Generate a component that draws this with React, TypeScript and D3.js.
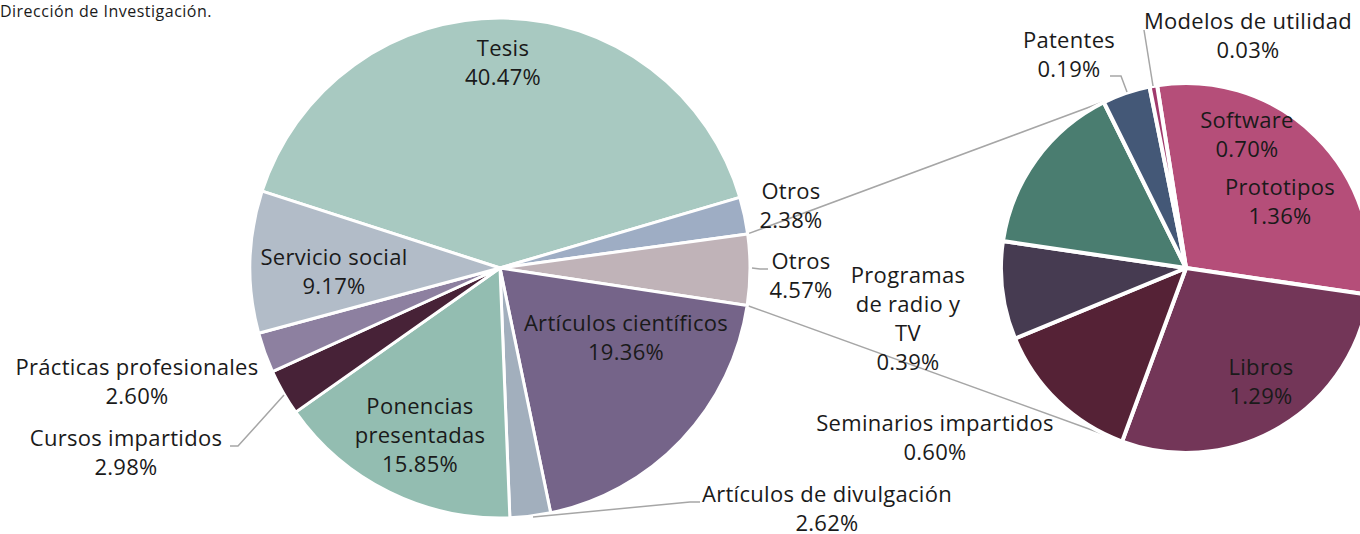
import React from "react";
import * as d3 from "d3";

// ---------- data ----------
const mainCategories = [
  "Tesis",
  "Otros",
  "Otros (desglose)",
  "Artículos científicos",
  "Artículos de divulgación",
  "Ponencias presentadas",
  "Cursos impartidos",
  "Prácticas profesionales",
  "Servicio social",
];
const mainValues = [40.47, 2.38, 4.57, 19.36, 2.62, 15.85, 2.98, 2.6, 9.17];

const secondaryCategories = [
  "Prototipos",
  "Libros",
  "Seminarios impartidos",
  "Programas de radio y TV",
  "Software",
  "Patentes",
  "Modelos de utilidad",
];
const secondaryValues = [1.36, 1.29, 0.6, 0.39, 0.7, 0.19, 0.03];

const sourceText = "Dirección de Investigación.";

// ---------- styles / layout ----------
const mainColors = [
  "#a8c9c1",
  "#9eadc4",
  "#c0b3b8",
  "#756489",
  "#a2afbd",
  "#93bdb1",
  "#472237",
  "#8d80a0",
  "#b2bcc8",
];
const secondaryColors = [
  "#b54e79",
  "#733658",
  "#552236",
  "#463b51",
  "#4a7d70",
  "#445877",
  "#a03a6d",
];

const W = 1360;
const H = 534;
const FONT = "'Open Sans', 'Noto Sans', sans-serif";
const FS = 22;
const LS = 0.3;
const LINE = 29;

const mainCx = 500;
const mainCy = 268;
const mainR = 250;
const mainStartDeg = -72.1;

const secCx = 1186;
const secCy = 268;
const secR = 185;
const secStartDeg = -9;
const connectorDeg = 24.8; // angle off vertical where connectors meet the secondary pie

const deg = (d: number) => (d * Math.PI) / 180;

type Lbl = { x: number; y: number; lines: string[]; leader?: [number, number][] };
const fmt = (v: number) => v.toFixed(2) + "%";

const mainLabelPos: Record<string, { x: number; y: number; lines?: string[]; leader?: [number, number][] }> = {
  Tesis: { x: 503, y: 48 },
  Otros: { x: 791, y: 191 },
  "Otros (desglose)": { x: 801, y: 261, lines: ["Otros"], leader: [[752, 268], [760, 269], [768, 269]] },
  "Artículos científicos": { x: 626, y: 323 },
  "Artículos de divulgación": { x: 827, y: 494, leader: [[533, 517], [690, 502], [700, 502]] },
  "Ponencias presentadas": { x: 420, y: 406, lines: ["Ponencias", "presentadas"] },
  "Cursos impartidos": { x: 126, y: 438, leader: [[230, 446], [238, 446], [284, 395]] },
  "Prácticas profesionales": { x: 137, y: 367 },
  "Servicio social": { x: 334, y: 257 },
};

const secLabelPos: Record<string, { x: number; y: number; lines?: string[]; leader?: [number, number][] }> = {
  Prototipos: { x: 1280, y: 187 },
  Libros: { x: 1261, y: 367 },
  "Seminarios impartidos": { x: 935, y: 423 },
  "Programas de radio y TV": { x: 908, y: 275, lines: ["Programas", "de radio y", "TV"] },
  Software: { x: 1247, y: 120 },
  Patentes: { x: 1069, y: 40, leader: [[1110, 76], [1121, 76], [1127, 92]] },
  "Modelos de utilidad": { x: 1248, y: 21, leader: [[1144, 30], [1153, 86]] },
};

export default function App() {
  const mainPie = d3
    .pie<number>()
    .sort(null)
    .value((d) => d)
    .startAngle(deg(mainStartDeg))
    .endAngle(deg(mainStartDeg) + 2 * Math.PI);
  const secPie = d3
    .pie<number>()
    .sort(null)
    .value((d) => d)
    .startAngle(deg(secStartDeg))
    .endAngle(deg(secStartDeg) + 2 * Math.PI);

  const mainArcs = mainPie(mainValues);
  const secArcs = secPie(secondaryValues);

  const mainArc = d3.arc<d3.PieArcDatum<number>>().innerRadius(0).outerRadius(mainR);
  const secArc = d3.arc<d3.PieArcDatum<number>>().innerRadius(0).outerRadius(secR);

  const otrosArc = mainArcs[2];
  const polar = (cx: number, cy: number, r: number, a: number): [number, number] => [
    cx + r * Math.sin(a),
    cy - r * Math.cos(a),
  ];
  const c1a = polar(mainCx, mainCy, mainR, otrosArc.startAngle);
  const c2a = polar(mainCx, mainCy, mainR, otrosArc.endAngle);
  const c1b = polar(secCx, secCy, secR, deg(-connectorDeg));
  const c2b = polar(secCx, secCy, secR, deg(180 + connectorDeg));

  const labels: Lbl[] = [];
  mainCategories.forEach((c, i) => {
    const p = mainLabelPos[c];
    labels.push({ x: p.x, y: p.y, lines: [...(p.lines ?? [c]), fmt(mainValues[i])], leader: p.leader });
  });
  secondaryCategories.forEach((c, i) => {
    const p = secLabelPos[c];
    labels.push({ x: p.x, y: p.y, lines: [...(p.lines ?? [c]), fmt(secondaryValues[i])], leader: p.leader });
  });

  const line = d3.line();

  return (
    <svg
      width={W}
      height={H}
      style={{ position: "absolute", left: 0, top: 0, background: "#fff" }}
      fontFamily={FONT}
    >
      <rect width={W} height={H} fill="#fff" />
      <text x={212} y={16.5} textAnchor="end" fontSize={16} letterSpacing={0.5} fill="#1a1a1a">
        {sourceText}
      </text>

      <line x1={c1a[0]} y1={c1a[1]} x2={c1b[0]} y2={c1b[1]} stroke="#a6a6a6" strokeWidth={1.5} />
      <line x1={c2a[0]} y1={c2a[1]} x2={c2b[0]} y2={c2b[1]} stroke="#a6a6a6" strokeWidth={1.5} />

      <g transform={`translate(${mainCx},${mainCy})`}>
        {mainArcs.map((a, i) => (
          <path key={i} d={mainArc(a) || ""} fill={mainColors[i]} stroke="#fff" strokeWidth={3} strokeLinejoin="round" />
        ))}
      </g>
      <g transform={`translate(${secCx},${secCy})`}>
        {secArcs.map((a, i) => (
          <path key={i} d={secArc(a) || ""} fill={secondaryColors[i]} stroke="#fff" strokeWidth={4} strokeLinejoin="round" />
        ))}
      </g>

      {labels.map((l, i) => (
        <g key={i}>
          {l.leader && (
            <path d={line(l.leader) || ""} fill="none" stroke="#a6a6a6" strokeWidth={1.5} />
          )}
          <text textAnchor="middle" fontSize={FS} letterSpacing={LS} fill="#1a1a1a">
            {l.lines.map((t, j) => (
              <tspan key={j} x={l.x} y={l.y + j * LINE} dy="0.35em">
                {t}
              </tspan>
            ))}
          </text>
        </g>
      ))}
    </svg>
  );
}
